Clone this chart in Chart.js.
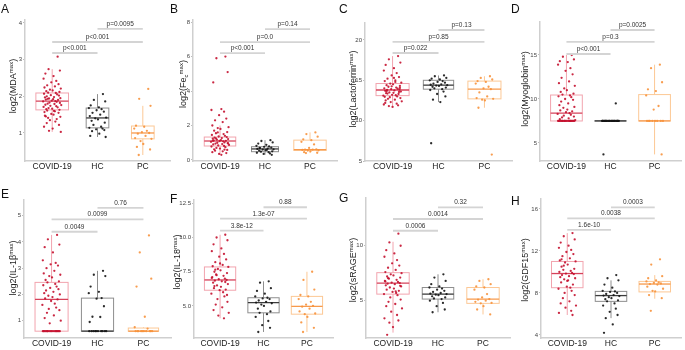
<!DOCTYPE html>
<html lang="en">
<head>
<meta charset="UTF-8">
<title>Biomarker box plots</title>
<script src="https://cdn.jsdelivr.net/npm/chart.js"></script>
<style>
  html, body { margin: 0; padding: 0; background: #fff; }
  #wrap { position: relative; width: 685px; height: 350px; overflow: hidden; }
  #wrap canvas { position: absolute; left: 0; top: 0; }
</style>
</head>
<body>
<div id="wrap"></div>
<script>
// groups and the horizontal jitter used for the dots (in category units)
const GROUPS = ['COVID-19', 'HC', 'PC'];
const JITTER = [0.12,-0.08,0.17,-0.15,0.03,-0.19,0.09,-0.02,0.14,-0.11,0.06,-0.17,0.19,-0.05,0.01,-0.13,0.16,-0.09,0.08,-0.18,
                0.11,-0.03,0.15,-0.12,0.04,-0.16,0.18,-0.07,0.02,-0.14,0.13,-0.01,0.07,-0.2,0.1,-0.06,0.17,-0.1,0.05,-0.15,
                0.2,-0.04,0.09,-0.19,0.12,-0.08,0.0,-0.13,0.16,-0.11,0.06,-0.17,0.14,-0.02,0.03,-0.16,0.18,-0.09,0.1,-0.05,
                0.07,-0.12,0.15,-0.18,0.01,-0.07,0.19,-0.14,0.04,-0.1];

// A - MDA
const A_COVID = [3.08,2.74,2.70,2.62,2.55,2.48,2.42,2.38,2.33,2.30,2.27,2.24,2.21,2.18,2.16,2.14,2.12,2.10,2.09,2.07,
                 2.05,2.03,2.02,2.00,1.98,1.97,1.95,1.94,1.92,1.91,1.90,1.88,1.87,1.86,1.85,1.83,1.82,1.80,1.79,1.77,
                 1.76,1.74,1.73,1.71,1.70,1.68,1.66,1.65,1.63,1.61,1.59,1.57,1.55,1.52,1.50,1.47,1.44,1.41,1.38,1.35,
                 1.31,1.27,1.22,1.17,1.12,1.06,1.03,1.45,1.60,1.93];
const A_HC = [2.06,1.90,1.86,1.75,1.70,1.68,1.65,1.62,1.58,1.55,1.50,1.46,1.42,1.40,1.37,1.33,1.28,1.22,1.17,1.14,1.12,1.10,1.08,1.05,0.98,0.92,0.89];
const A_PC = [2.20,1.93,1.74,1.20,1.17,1.12,1.06,1.02,1.00,0.98,0.92,0.86,0.84,0.78,0.70,0.62,0.55,0.40];
const A_BOX = [[1.03,1.63,1.87,2.09,2.74],[0.89,1.14,1.41,1.68,2.06],[0.40,0.84,1.00,1.19,1.74]];
const A_P = ['p<0.001','p<0.001','p=0.0095'];
const A_TICKS = ['1','2','3','4'];

// B - Fec
const B_COVID = [6.0,5.9,5.1,4.5,2.95,2.9,2.8,2.6,2.4,2.3,2.2,2.0,1.9,1.85,1.8,1.7,1.62,1.55,1.5,1.45,
                 1.4,1.36,1.33,1.3,1.27,1.24,1.21,1.18,1.15,1.13,1.11,1.1,1.08,1.05,1.02,1.0,0.98,0.95,0.92,0.9,
                 0.87,0.84,0.81,0.78,0.74,0.7,0.66,0.62,0.58,0.54,0.5,0.45,0.4,0.35,0.3,1.12,0.96,1.25,0.6,1.6];
const B_HC = [1.15,1.1,1.02,0.95,0.88,0.82,0.78,0.76,0.72,0.69,0.66,0.64,0.62,0.6,0.57,0.54,0.5,0.48,0.45,0.42,0.38,0.35,0.3,0.7,0.58];
const B_PC = [1.6,1.5,1.35,1.2,1.15,1.05,0.9,0.7,0.62,0.6,0.6,0.58,0.56,0.55,0.5,0.45,0.42,0.4];
const B_BOX = [[0.3,0.81,1.1,1.33,2.0],[0.3,0.48,0.64,0.77,1.15],[0.4,0.55,0.6,1.15,1.6]];
const B_P = ['p<0.001','p=0.0','p=0.14'];
const B_TICKS = ['0','2','4','6','8'];

// C - Lactoferrin
const C_COVID = [18.0,17.6,17.2,16.9,16.5,16.2,15.9,15.6,15.4,15.2,15.0,14.9,14.7,14.6,14.5,14.4,14.3,14.2,14.1,14.0,
                 13.95,13.9,13.85,13.8,13.75,13.7,13.6,13.5,13.45,13.4,13.3,13.2,13.15,13.1,13.0,12.9,12.8,12.7,12.6,12.5,
                 12.4,12.3,12.1,12.0,11.9,11.8,11.7,13.65,14.05,13.35,14.8,12.95,13.55,14.25,15.3,12.2];
const C_HC = [15.6,15.5,15.3,15.2,15.1,15.0,14.9,14.8,14.7,14.6,14.5,14.45,14.4,14.35,14.3,14.2,14.1,14.0,13.9,13.8,13.6,13.3,13.0,12.6,12.3,7.2];
const C_PC = [15.5,15.3,15.1,14.9,14.8,14.6,14.2,14.0,13.9,13.5,13.0,12.8,12.7,12.6,12.5,11.6,5.8];
const C_BOX = [[11.7,13.1,13.8,14.6,18.0],[12.3,13.9,14.4,15.0,15.6],[11.6,12.7,13.9,14.9,15.5]];
const C_P = ['p=0.022','p=0.85','p=0.13'];
const C_TICKS = ['5','10','15','20'];

// D - Myoglobin
const D_COVID = [15.0,14.8,14.5,14.3,14.2,13.9,13.5,13.2,12.8,12.4,12.0,11.8,11.5,11.2,11.0,10.8,10.6,10.5,10.4,10.3,
                 10.2,10.0,9.9,9.7,9.5,9.3,9.1,9.0,8.8,8.7,8.6,8.5,8.4,8.3,8.2,8.1,8.0,7.9,7.8,7.7,7.6,
                 7.5,7.5,7.5,7.5,7.5,7.5,7.5,7.5,7.5,7.5,7.5,7.5,7.5,7.5,7.5,7.5,7.5,7.5,7.5,7.5];
const D_HC = [9.5,7.5,7.5,7.5,7.5,7.5,7.5,7.5,7.5,7.5,7.5,7.5,7.5,7.5,7.5,7.5,7.5,7.5,7.5,7.5,7.5,7.5,7.5,7.5,7.5,3.7];
const D_PC = [13.9,13.5,11.9,11.1,10.9,10.4,9.2,8.8,7.5,7.5,7.5,7.5,7.5,7.5,7.5,7.5,3.7];
const D_BOX = [[7.5,7.5,8.4,10.45,15.0],[7.5,7.5,7.5,7.5,7.5],[3.7,7.5,7.5,10.5,13.9]];
const D_P = ['p<0.001','p=0.3','p=0.0025'];
const D_TICKS = ['5','10','15'];

// E - IL-1beta
const E_COVID = [4.27,4.1,3.9,3.8,3.6,3.3,3.2,3.15,3.1,3.0,2.9,2.8,2.75,2.7,2.65,2.55,2.5,2.46,2.4,2.35,
                 2.3,2.25,2.2,2.15,2.1,2.05,2.0,1.95,1.9,1.85,1.81,1.75,1.65,1.6,1.5,1.45,1.4,1.3,1.2,1.1,1.0,0.9,
                 0.6,0.6,0.6,0.6,0.6,0.6,0.6,0.6,0.6,0.6,0.6,0.6,0.6,0.6,0.6,0.6,0.6,0.6];
const E_HC = [2.9,2.75,2.7,2.3,2.1,2.05,1.86,1.84,1.55,1.15,1.14,0.95,0.6,0.6,0.6,0.6,0.6,0.6,0.6,0.6,0.6,0.6];
const E_PC = [4.25,3.6,2.6,2.3,1.15,0.75,0.7,0.6,0.6,0.6,0.6,0.6,0.6,0.6,0.6,0.6,0.6];
const E_BOX = [[0.6,0.6,1.81,2.46,4.27],[0.6,0.6,0.6,1.86,2.9],[0.6,0.6,0.6,0.72,0.75]];
const E_P = ['0.0049','0.0099','0.76'];
const E_TICKS = ['1','2','3','4','5'];

// F - IL-18
const F_COVID = [10.2,10.0,9.8,9.5,9.2,9.0,8.8,8.6,8.4,8.2,8.0,7.9,7.85,7.7,7.6,7.5,7.4,7.3,7.2,7.1,
                 7.0,6.95,6.9,6.85,6.8,6.7,6.6,6.5,6.4,6.3,6.2,6.15,6.0,5.9,5.7,5.5,5.3,5.1,4.9,4.7,
                 4.5,4.3,4.1,7.05,6.75,7.25,8.1,6.45,5.8,7.65];
const F_HC = [6.8,6.7,6.3,6.1,5.9,5.7,5.6,5.55,5.5,5.4,5.3,5.25,5.2,5.1,5.0,4.8,4.6,4.5,4.4,4.2,3.9,3.6,3.4,3.1];
const F_PC = [7.5,6.9,6.2,5.8,5.7,5.5,5.3,5.1,5.0,4.95,4.8,4.6,4.45,4.4,4.2,3.8,3.4,3.1];
const F_BOX = [[4.1,6.15,6.9,7.85,10.2],[3.1,4.5,5.25,5.6,6.8],[3.1,4.4,4.97,5.7,7.5]];
const F_P = ['3.8e-12','1.3e-07','0.88'];
const F_TICKS = ['5.0','7.5','10.0','12.5'];

// G - sRAGE
const G_COVID = [11.1,10.3,10.0,9.6,9.3,9.0,8.7,8.4,8.2,8.0,7.8,7.6,7.5,7.4,7.3,7.2,7.1,7.0,6.9,6.8,
                 6.7,6.65,6.6,6.55,6.5,6.4,6.3,6.2,6.1,6.0,5.9,5.8,5.7,5.6,5.5,5.3,5.1,4.9,4.7,4.5,
                 4.3,4.0,3.7,3.4,3.2,3.0,2.6,1.9,6.35,7.05,5.85,6.75];
const G_HC = [7.4,7.1,6.8,6.5,6.3,6.2,6.1,6.0,5.9,5.8,5.7,5.65,5.6,5.55,5.5,5.4,5.3,5.2,5.15,5.0,4.8,4.5,4.2,3.95];
const G_PC = [6.95,6.8,6.5,6.3,6.2,6.0,5.6,5.3,5.15,5.1,5.0,4.9,4.8,4.76,4.5,4.2,3.75];
const G_BOX = [[2.1,5.6,6.6,7.55,10.36],[3.95,5.15,5.6,6.2,7.4],[3.75,4.76,5.15,6.2,6.95]];
const G_P = ['0.0006','0.0014','0.32'];
const G_TICKS = ['5','10'];

// H - GDF15
const H_COVID = [13.7,13.4,13.1,12.8,12.5,12.3,12.1,11.9,11.7,11.5,11.3,11.1,11.0,10.9,10.7,10.5,10.3,10.2,10.1,10.0,
                 9.9,9.85,9.8,9.7,9.6,9.5,9.4,9.3,9.2,9.0,8.8,8.6,8.5,8.4,8.2,8.0,7.8,7.5,7.2,7.0,
                 6.8,6.6,6.3,6.1,5.9,10.6,9.15,11.2];
const H_HC = [9.7,9.4,9.2,8.8,8.5,8.2,8.15,8.1,8.0,7.9,7.8,7.75,7.7,7.6,7.5,7.4,7.3,7.2,7.0,6.8,6.5,6.2,5.9,5.6,5.0,4.2];
const H_PC = [11.2,10.7,9.6,9.4,9.2,9.1,9.0,8.95,8.9,8.85,8.8,8.6,8.4,8.2,8.15,7.8,7.5,6.3];
const H_BOX = [[5.9,8.5,9.85,11.0,13.7],[5.6,7.2,7.75,8.15,9.2],[7.45,8.1,8.85,9.1,9.7]];
const H_P = ['1.6e-10','0.0038','0.0003'];
const H_TICKS = ['4','8','12','16'];

// colours per group: dots, box edge, median
const DOT = ['rgba(196,17,47,0.9)', 'rgba(20,20,20,0.9)', 'rgba(247,146,60,0.9)'];
const EDGE = ['#f2a4ae', '#8e8e8e', '#fcc895'];
const MED = ['#d6425a', '#3c3c3c', '#f79a4c'];
const FONT = '"Liberation Sans", Arial, sans-serif';

// layout: area = [left, right, top, bottom] in page pixels
const PANELS = [
  { letter: 'A', sets: [A_COVID, A_HC, A_PC], box: A_BOX, pvals: A_P, ticks: A_TICKS,
    title: [['log2(MDA'], ['max', 'sup'], [')']], area: [25, 170, 20, 161], yr: [0.236, 4.08],
    bracketY: [3.18, 3.48, 3.84], boxW: [0.72, 0.5, 0.5], titlePos: [13, 86], letterPos: [1, 13] },
  { letter: 'B', sets: [B_COVID, B_HC, B_PC], box: B_BOX, pvals: B_P, ticks: B_TICKS,
    title: [['log2(Fe'], ['c', 'sub'], ['max', 'sup'], [')']], area: [193, 337, 20, 161], yr: [-0.06, 8.12],
    bracketY: [6.2, 6.84, 7.59], boxW: [0.7, 0.6, 0.72], titlePos: [183, 84], letterPos: [170, 13] },
  { letter: 'C', sets: [C_COVID, C_HC, C_PC], box: C_BOX, pvals: C_P, ticks: C_TICKS,
    title: [['log2(Lactoferrin'], ['max', 'sup'], [')']], area: [365, 512, 23, 161], yr: [5, 22.1],
    bracketY: [18.38, 19.75, 21.23], boxW: [0.72, 0.66, 0.72], titlePos: [353, 89], letterPos: [339, 13] },
  { letter: 'D', sets: [D_COVID, D_HC, D_PC], box: D_BOX, pvals: D_P, ticks: D_TICKS,
    title: [['log2(Myoglobin'], ['max', 'sup'], [')']], area: [540, 684, 22, 161], yr: [2.95, 18.75],
    bracketY: [15.11, 16.48, 17.84], boxW: [0.72, 0.72, 0.72], titlePos: [525, 89], letterPos: [511, 13] },
  { letter: 'E', sets: [E_COVID, E_HC, E_PC], box: E_BOX, pvals: E_P, ticks: E_TICKS,
    title: [['log2(IL-1\u03b2'], ['max', 'sup'], [')']], area: [24, 171, 200, 338], yr: [0.34, 5.6],
    bracketY: [4.39, 4.86, 5.3], boxW: [0.72, 0.7, 0.66], titlePos: [13, 268], letterPos: [1, 198] },
  { letter: 'F', sets: [F_COVID, F_HC, F_PC], box: F_BOX, pvals: F_P, ticks: F_TICKS,
    title: [['log2(IL-18'], ['max', 'sup'], [')']], area: [194, 333, 200, 338], yr: [2.66, 12.74],
    bracketY: [10.5, 11.38, 12.21], boxW: [0.72, 0.72, 0.72], titlePos: [177, 262], letterPos: [170, 203] },
  { letter: 'G', sets: [G_COVID, G_HC, G_PC], box: G_BOX, pvals: G_P, ticks: G_TICKS,
    title: [['log2(sRAGE'], ['max', 'sup'], [')']], area: [366, 510, 198, 338], yr: [1.61, 14.34],
    bracketY: [11.36, 12.43, 13.49], boxW: [0.72, 0.7, 0.72], titlePos: [353, 270], letterPos: [339, 202] },
  { letter: 'H', sets: [H_COVID, H_HC, H_PC], box: H_BOX, pvals: H_P, ticks: H_TICKS,
    title: [['log2(GDF15'], ['max', 'sup'], [')']], area: [541, 684, 199, 338], yr: [3.71, 16.95],
    bracketY: [14.0, 15.11, 16.16], boxW: [0.72, 0.72, 0.72], titlePos: [525, 270], letterPos: [511, 205] }
];

const PAIRS = [[0, 1], [0, 2], [1, 2]];
const YW = 16, XH = 12;

// boxes under the dots, brackets/title/letter on top
function panelPlugin(p) {
  return {
    id: 'panel' + p.letter,
    beforeDatasetsDraw(chart) {
      const { ctx, scales: { x, y } } = chart;
      ctx.save();
      p.box.forEach((b, g) => {
        const cx = x.getPixelForValue(g);
        const half = (x.getPixelForValue(g + p.boxW[g] / 2) - x.getPixelForValue(g - p.boxW[g] / 2)) / 2;
        const [lo, q1, md, q3, hi] = b.map(v => y.getPixelForValue(v));
        ctx.strokeStyle = EDGE[g];
        ctx.lineWidth = 1;
        ctx.beginPath();
        ctx.moveTo(cx, hi); ctx.lineTo(cx, q3);
        ctx.moveTo(cx, q1); ctx.lineTo(cx, lo);
        ctx.stroke();
        ctx.strokeRect(cx - half, q3, half * 2, q1 - q3);
        ctx.strokeStyle = MED[g];
        ctx.lineWidth = 1.3;
        ctx.beginPath();
        ctx.moveTo(cx - half, md); ctx.lineTo(cx + half, md);
        ctx.stroke();
      });
      ctx.restore();
    },
    afterDraw(chart) {
      const { ctx, scales: { x, y } } = chart;
      ctx.save();
      // significance brackets
      PAIRS.forEach(([a, b], k) => {
        const py = y.getPixelForValue(p.bracketY[k]);
        const xa = x.getPixelForValue(a), xb = x.getPixelForValue(b);
        ctx.strokeStyle = '#d4d4d4';
        ctx.lineWidth = 1.8;
        ctx.beginPath();
        ctx.moveTo(xa, py); ctx.lineTo(xb, py);
        ctx.stroke();
        ctx.fillStyle = '#333';
        ctx.font = '6.5px ' + FONT;
        ctx.textAlign = 'center';
        ctx.textBaseline = 'alphabetic';
        ctx.fillText(p.pvals[k], (xa + xb) / 2, py - 3);
      });
      // panel letter
      ctx.fillStyle = '#111';
      ctx.font = '12px ' + FONT;
      ctx.textAlign = 'left';
      ctx.fillText(p.letter, p.letterPos[0], p.letterPos[1]);
      // rotated y title with super/subscripts
      const parts = p.title.map(([t, kind]) => {
        const size = kind ? 6 : 9;
        ctx.font = size + 'px ' + FONT;
        return { t, kind, size, w: ctx.measureText(t).width };
      });
      const total = parts.reduce((s, q) => s + q.w, 0);
      ctx.translate(p.titlePos[0], p.titlePos[1]);
      ctx.rotate(-Math.PI / 2);
      ctx.fillStyle = '#222';
      let cur = -total / 2;
      parts.forEach(q => {
        ctx.font = q.size + 'px ' + FONT;
        const dy = q.kind === 'sup' ? -0.5 : q.kind === 'sub' ? 4.5 : 3;
        ctx.fillText(q.t, cur, dy);
        cur += q.w;
      });
      ctx.restore();
    }
  };
}

const wrap = document.getElementById('wrap');
PANELS.forEach(p => {
  const cv = document.createElement('canvas');
  cv.width = 685;
  cv.height = 350;
  wrap.appendChild(cv);
  const [l, r, t, b] = p.area;
  new Chart(cv, {
    type: 'scatter',
    data: {
      datasets: p.sets.map((vals, g) => ({
        data: vals.map((v, i) => ({ x: g + JITTER[i % JITTER.length], y: v })),
        pointRadius: 1.15,
        pointBorderWidth: 0,
        pointBackgroundColor: DOT[g]
      }))
    },
    options: {
      responsive: false,
      animation: false,
      events: [],
      layout: { padding: { left: l - YW, right: 685 - r, top: t, bottom: 350 - b - XH } },
      plugins: { legend: { display: false }, tooltip: { enabled: false } },
      scales: {
        x: {
          type: 'linear', min: -0.6, max: 2.6,
          afterBuildTicks: s => { s.ticks = [0, 1, 2].map(v => ({ value: v })); },
          afterFit: s => { s.height = XH; },
          grid: { display: false, drawTicks: false },
          border: { color: '#cfcfcf', width: 1.5 },
          ticks: { autoSkip: false, maxRotation: 0, padding: 1, color: '#1a1a1a',
                   font: { size: 8.5, family: FONT }, callback: (v, i) => GROUPS[i] }
        },
        y: {
          min: p.yr[0], max: p.yr[1],
          afterBuildTicks: s => { s.ticks = p.ticks.map(v => ({ value: parseFloat(v) })); },
          afterFit: s => { s.width = YW; },
          grid: { drawOnChartArea: false, tickLength: 2, color: '#bdbdbd' },
          border: { color: '#cfcfcf', width: 1.5 },
          ticks: { autoSkip: false, padding: 1, color: '#444',
                   font: { size: 6, family: FONT }, callback: (v, i) => p.ticks[i] }
        }
      }
    },
    plugins: [panelPlugin(p)]
  });
});
</script>
</body>
</html>
